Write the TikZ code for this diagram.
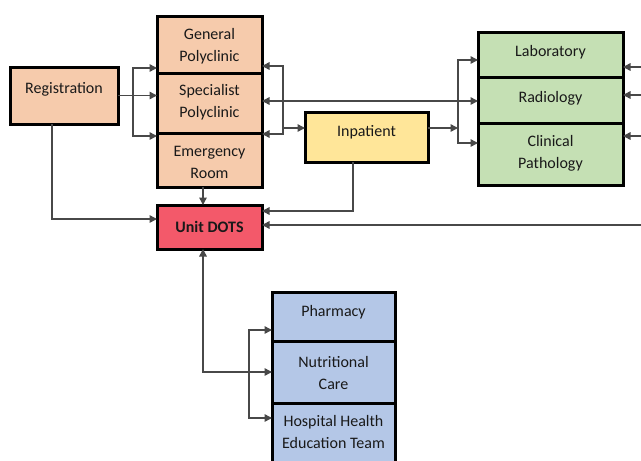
\documentclass[tikz,border=0pt]{standalone}
\usepackage{fontspec}
\setmainfont{Carlito}
\usetikzlibrary{arrows.meta}
\definecolor{peach}{RGB}{246,203,172}
\definecolor{gold}{RGB}{255,230,153}
\definecolor{sage}{RGB}{197,224,180}
\definecolor{rose}{RGB}{243,89,106}
\definecolor{sky}{RGB}{180,199,231}
\definecolor{wire}{RGB}{72,72,72}
\definecolor{ink}{RGB}{25,25,25}
\tikzset{
  boxnode/.style={draw=black, line width=3pt, inner sep=0pt, outer sep=0pt},
  txt/.style={font=\fontsize{16}{22}\selectfont, text=ink, align=center, inner sep=0pt},
  conn/.style={draw=wire, line width=1.5pt, -{Triangle[length=7.5pt,width=7.5pt]}},
  conntwo/.style={draw=wire, line width=1.5pt, {Triangle[length=7.5pt,width=7.5pt]}-{Triangle[length=7.5pt,width=7.5pt]}},
}
\begin{document}
\begin{tikzpicture}[x=1pt,y=-1pt]
\clip (0,0) rectangle (641,461);
\fill[white] (0,0) rectangle (641,461);

% boxes
\node[boxnode, fill=peach, minimum width=108pt, minimum height=57pt] (reg) at (64,95.5) {};
\node[boxnode, fill=peach, minimum width=105pt, minimum height=57pt] (gen) at (209.5,44.5) {};
\node[boxnode, fill=peach, minimum width=105pt, minimum height=60pt] (spec) at (209.5,103) {};
\node[boxnode, fill=peach, minimum width=105pt, minimum height=54pt] (emer) at (209.5,160) {};
\node[boxnode, fill=gold, minimum width=123pt, minimum height=50pt] (inp) at (366.5,137) {};
\node[boxnode, fill=sage, minimum width=145pt, minimum height=45pt] (lab) at (550.5,54.5) {};
\node[boxnode, fill=sage, minimum width=145pt, minimum height=46pt] (rad) at (550.5,100) {};
\node[boxnode, fill=sage, minimum width=145pt, minimum height=62pt] (path) at (550.5,154) {};
\node[boxnode, fill=rose, minimum width=105pt, minimum height=44pt] (dots) at (209.5,227) {};
\node[boxnode, fill=sky, minimum width=123pt, minimum height=49pt] (pha) at (333.5,316.5) {};
\node[boxnode, fill=sky, minimum width=123pt, minimum height=62pt] (nut) at (333.5,372) {};
\node[boxnode, fill=sky, minimum width=123pt, minimum height=72pt] (hhe) at (333.5,439) {};

% texts
\node[txt] (regt) at (64,89) {Registration};
\node[txt] (gent) at (209.5,46) {General\\Polyclinic};
\node[txt] (spect) at (209.5,102.5) {Specialist\\Polyclinic};
\node[txt] (emert) at (209.5,162) {Emergency\\Room};
\node[txt] (inpt) at (366.5,132) {Inpatient};
\node[txt] (labt) at (550.5,52) {Laboratory};
\node[txt] (radt) at (550.5,98) {Radiology};
\node[txt] (patht) at (550.5,153.5) {Clinical\\Pathology};
\node[txt, font=\fontsize{16}{22}\selectfont\bfseries] (dotst) at (209.5,226.5) {Unit DOTS};
\node[txt] (phat) at (333.5,312) {Pharmacy};
\node[txt] (nutt) at (333.5,373) {Nutritional\\Care};
\node[txt] (hhet) at (333.5,432) {Hospital Health\\Education Team};

% junctions and edge points
\coordinate (ja) at (133,95.5);
\coordinate (jb) at (283,128);
\coordinate (jc) at (458,128);
\coordinate (jd) at (249,372);
\coordinate (e1) at (641,67);
\coordinate (e2) at (641,95);
\coordinate (e3) at (641,136);
\coordinate (e4) at (641,225);

% Registration to clinics
\draw[conn] (reg.east) -- (reg.east -| spec.west);
\draw[conn] (ja) |- (gen.west |- 0,68);
\draw[conn] (ja) |- (emer.west |- 0,136);

% clinics right side
\draw[conn] (jb) |- (gen.east |- 0,66);
\draw[conn] (jb) |- (emer.east |- 0,134);
\draw[conn] (jb) -- (jb -| inp.west);
\draw[conntwo] (spec.east |- 0,101) -- (rad.west |- 0,101);

% Inpatient to support units
\draw[conn] (inp.east |- jc) -- (jc);
\draw[conn] (jc) |- (lab.west |- 0,60);
\draw[conn] (jc) |- (path.west |- 0,143);

% from the right edge
\draw[conn] (e1) -- (e1 -| lab.east);
\draw[conn] (e2) -- (e2 -| rad.east);
\draw[conn] (e3) -- (e3 -| path.east);
\draw[conn] (e4) -- (e4 -| dots.east);

% into Unit DOTS
\draw[conn] (inp.south -| 353,0) |- (dots.east |- 0,211);
\draw[conn] (emer.south -| 203,0) -- (dots.north -| 203,0);
\draw[conn] (reg.south -| 52,0) |- (dots.west |- 0,219);

% Unit DOTS and supporting services
\draw[conntwo] (dots.south -| 203,0) |- (nut.west |- 0,372);
\draw[conn] (jd) |- (pha.west |- 0,330);
\draw[conn] (jd) |- (hhe.west |- 0,418);
\end{tikzpicture}
\end{document}
